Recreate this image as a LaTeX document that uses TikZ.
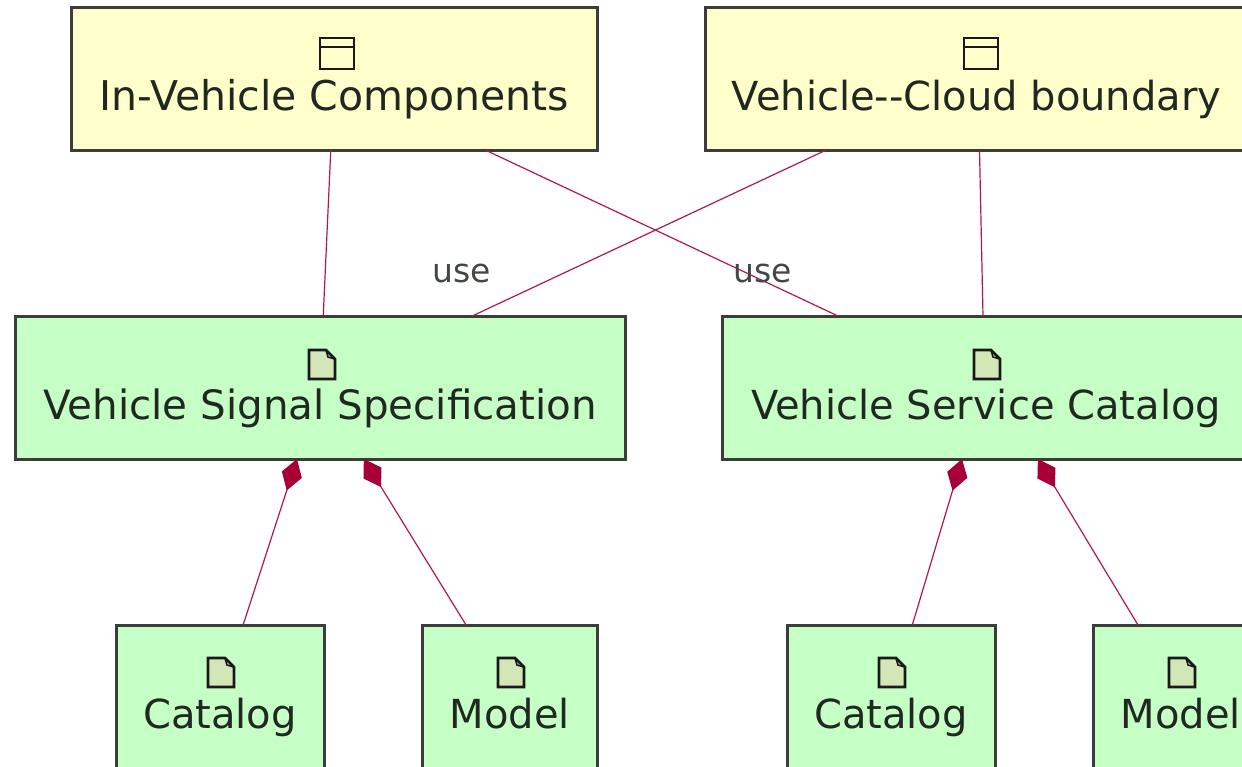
\documentclass[tikz,border=0pt]{standalone}
\usepackage{fontspec}
\setmainfont{DejaVu Sans}
\usetikzlibrary{arrows.meta}
\definecolor{edgecol}{HTML}{A80036}
\definecolor{bordercol}{HTML}{3C3C3C}
\definecolor{compfill}{HTML}{FFFFCC}
\definecolor{artfill}{HTML}{C6FFC6}
\definecolor{iconfill}{HTML}{D2E6B8}
\definecolor{inkcol}{HTML}{202820}
\tikzset{
  box/.style={draw=bordercol,line width=3pt,minimum height=143pt,inner sep=0pt,outer sep=0pt},
  compbox/.style={box,fill=compfill},
  artbox/.style={box,fill=artfill},
  boxtext/.style={font=\fontsize{40}{40}\selectfont,text=inkcol,inner sep=0pt,anchor=base},
  uselabel/.style={font=\fontsize{33}{33}\selectfont,text=inkcol!85,inner sep=0pt,anchor=base},
  plain/.style={draw=edgecol!90,line width=1.2pt},
  compo/.style={draw=edgecol!90,line width=1.2pt,{Diamond[length=33pt,width=21pt,fill=edgecol,color=edgecol]}-},
  icon/.style={draw=black!90,line width=2.8pt,line join=miter},
}
\newcommand{\compicon}[1]{%
  \begin{scope}[shift={(#1)}]
    \filldraw[icon,fill=compfill] (-17,-16) rectangle (17,15);
    \draw[icon] (-17,-7) -- (17,-7);
  \end{scope}}
\newcommand{\docicon}[1]{%
  \begin{scope}[shift={(#1)}]
    \filldraw[icon,fill=iconfill] (-13,-15) -- (4,-15) -- (13,-6) -- (13,14) -- (-13,14) -- cycle;
    \draw[draw=black!90,line width=1.6pt] (4,-15) -- (6,-8) -- (13,-6);
  \end{scope}}
\begin{document}
\begin{tikzpicture}[x=1pt,y=-1pt]
\clip (0,0) rectangle (1242,766);
\node[compbox,minimum width=526pt] (ivc) at (334,78.5) {};
\node[compbox,minimum width=546pt] (vcb) at (978,78.5) {};
\node[artbox,minimum width=610pt] (vss) at (320,387.5) {};
\node[artbox,minimum width=546pt] (vsc) at (995,387.5) {};
\node[artbox,minimum width=208pt] (cat1) at (220,696.5) {};
\node[artbox,minimum width=175pt] (mod1) at (510,696.5) {};
\node[artbox,minimum width=208pt] (cat2) at (891,696.5) {};
\node[artbox,minimum width=175pt] (mod2) at (1181,696.5) {};
\coordinate (vscleft) at (838,316);
\coordinate (vscmid) at (983,316);
\coordinate (vscdown) at (962,459);
\draw[plain] (ivc) -- (vss);
\draw[plain] (ivc) -- (vscleft);
\draw[plain] (vcb) -- (vss);
\draw[plain] (vcb) -- (vscmid);
\draw[compo] (vss) -- (cat1);
\draw[compo] (vss) -- (mod1);
\draw[compo] (vscdown) -- (cat2);
\draw[compo] (vsc) -- (mod2);
\compicon{337,54}
\compicon{981,54}
\docicon{322,365}
\docicon{987,365}
\docicon{221,673}
\docicon{511,673}
\docicon{892,673}
\docicon{1182,673}
\path (334.5,110) node[boxtext,font=\fontsize{41}{41}\selectfont] (t1) {In-Vehicle Components};
\path (976.5,110) node[boxtext] (t2) {Vehicle{-}{-}Cloud boundary};
\path (320,419) node[boxtext,font=\fontsize{40.4}{41}\selectfont] (t3) {Vehicle Signal Specification};
\path (986,419) node[boxtext] (t4) {Vehicle Service Catalog};
\path (220,728) node[boxtext] (t5) {Catalog};
\path (510,728) node[boxtext] (t6) {Model};
\path (891,728) node[boxtext] (t7) {Catalog};
\path (1181,728) node[boxtext] (t8) {Model};
\path (462,282) node[uselabel] (u1) {use};
\path (763,282) node[uselabel] (u2) {use};
\end{tikzpicture}
\end{document}
